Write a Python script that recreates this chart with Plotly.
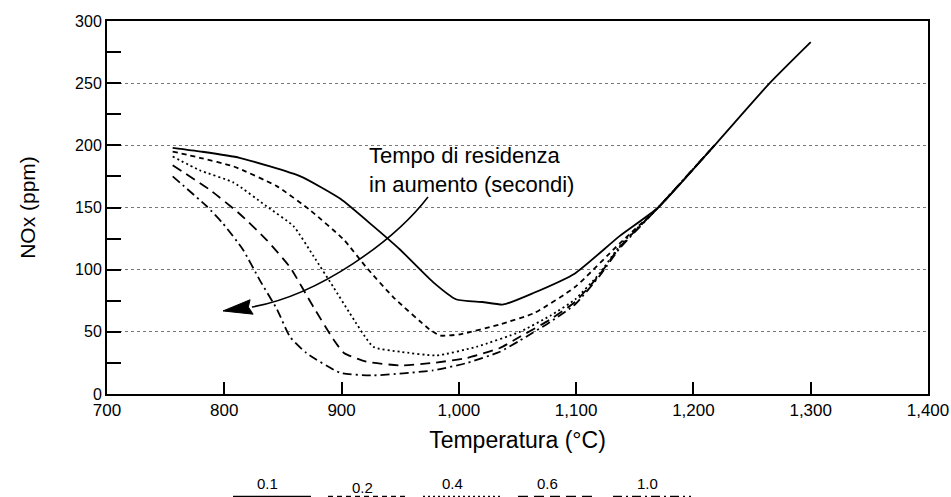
import plotly.graph_objects as go

# ---- data ----
labels = ["0.1", "0.2", "0.4", "0.6", "1.0"]

x_01 = [756, 780, 813, 865, 899, 927, 950, 978, 998, 1020, 1038, 1063, 1099, 1137, 1170, 1218, 1265, 1300]
y_01 = [198, 195, 190, 175, 157, 135, 116, 90, 76, 74, 72, 81, 97, 127, 150, 200, 250, 283]

x_02 = [756, 779, 808, 845, 873, 902, 921, 944, 975, 984, 1001, 1035, 1064, 1099, 1137, 1170, 1218]
y_02 = [195, 190, 183, 167, 148, 124, 102, 78, 52, 47, 48, 56, 65, 86, 121, 150, 200]

x_04 = [756, 779, 808, 836, 859, 876, 893, 907, 927, 950, 981, 1015, 1052, 1078, 1099, 1120, 1137, 1170, 1218]
y_04 = [191, 180, 170, 151, 135, 111, 86, 65, 38, 34, 31, 38, 50, 63, 76, 97, 119, 150, 200]

x_06 = [756, 788, 813, 836, 856, 876, 893, 902, 921, 950, 978, 1007, 1035, 1052, 1078, 1099, 1120, 1137, 1170, 1218]
y_06 = [184, 164, 145, 124, 102, 70, 44, 33, 26, 23, 25, 29, 37, 46, 60, 74, 96, 118, 150, 200]

x_10 = [756, 785, 799, 816, 830, 845, 856, 870, 899, 927, 978, 1007, 1035, 1052, 1078, 1099, 1120, 1137, 1170, 1218]
y_10 = [175, 151, 137, 116, 92, 68, 46, 33, 17, 15, 19, 25, 34, 43, 58, 72, 95, 117, 150, 200]

series_x = [x_01, x_02, x_04, x_06, x_10]
series_y = [y_01, y_02, y_04, y_06, y_10]
dashes = ["solid", "5px,4px", "2px,3px", "10px,6px", "9px,4px,2px,4px"]

x_ticks = [700, 800, 900, 1000, 1100, 1200, 1300, 1400]
x_ticktext = ["700", "800", "900", "1,000", "1,100", "1,200", "1,300", "1,400"]
y_ticks = [0, 50, 100, 150, 200, 250, 300]

note_text = "Tempo di residenza<br>in aumento (secondi)"
# curved arrow (annotation) control points, data coords
arrow_curve = [(973.7, 158.5), (945.5, 123.9), (881.6, 79.7), (823.6, 70.0)]
arrow_head = [(822.0, 75.8), (798.9, 66.8), (824.6, 64.2), (820.5, 70.0)]

FONT = "Liberation Sans, Arial, sans-serif"

fig = go.Figure()
for lab, xs, ys, d in zip(labels, series_x, series_y, dashes):
    fig.add_trace(go.Scatter(
        x=xs, y=ys, mode="lines", name=lab, legendgroup=lab, showlegend=False,
        line=dict(color="black", width=1.8, dash=d, shape="spline", smoothing=0.5),
    ))
# legend samples (no data, only the key line; labels are drawn above them)
for lab, d in zip(labels, dashes):
    fig.add_trace(go.Scatter(
        x=[None], y=[None], mode="lines", name=" ", legendgroup=lab, showlegend=True,
        line=dict(color="black", width=1.8, dash=d), hoverinfo="skip",
    ))

# curved arrow
p = arrow_curve
path = "M {},{} C {},{} {},{} {},{}".format(*p[0], *p[1], *p[2], *p[3])
fig.add_shape(type="path", path=path, xref="x", yref="y",
              line=dict(color="black", width=1.6))
h = arrow_head
hpath = "M {},{} L {},{} L {},{} L {},{} Z".format(*h[0], *h[1], *h[2], *h[3])
fig.add_shape(type="path", path=hpath, xref="x", yref="y",
              line=dict(color="black", width=1), fillcolor="black")

fig.add_annotation(x=922, y=180, xref="x", yref="y", text=note_text,
                   showarrow=False, xanchor="left", yanchor="middle", align="left",
                   font=dict(family=FONT, size=22, color="black"))

# legend labels above the samples
label_px = [267, 362, 452, 547, 647]
label_py = [483, 487, 483, 483, 483]
for lab, px, py in zip(labels, label_px, label_py):
    fig.add_annotation(x=(px - 107) / 821, y=(394 - py) / 373, xref="paper", yref="paper",
                       text=lab, showarrow=False, xanchor="center", yanchor="middle",
                       font=dict(family=FONT, size=15, color="black"))

fig.update_layout(
    width=951, height=497,
    margin=dict(l=107, r=23, t=21, b=103, autoexpand=False),
    paper_bgcolor="white", plot_bgcolor="white",
    font=dict(family=FONT, color="black"),
    showlegend=True,
    legend=dict(orientation="h", x=(228 - 107) / 821, xanchor="left",
                y=(394 - 481) / 373, yanchor="top",
                entrywidth=2, entrywidthmode="pixels", itemwidth=78,
                font=dict(size=14, color="black"),
                bgcolor="rgba(0,0,0,0)", tracegroupgap=0),
    xaxis=dict(range=[700, 1400], tickvals=x_ticks, ticktext=x_ticktext,
               ticks="inside", ticklen=12, tickwidth=2, tickcolor="black",
               showline=True, linewidth=2, linecolor="black", mirror=True,
               showgrid=False, zeroline=False,
               tickfont=dict(family=FONT, size=17, color="black"),
               title=dict(text="Temperatura (°C)", standoff=12,
                          font=dict(family=FONT, size=23, color="black"))),
    yaxis=dict(range=[0, 300], tickvals=y_ticks,
               ticks="inside", ticklen=14, tickwidth=2, tickcolor="black",
               minor=dict(dtick=25, tick0=0, ticks="inside", ticklen=14, tickwidth=2,
                          tickcolor="black", showgrid=False),
               showline=True, linewidth=2, linecolor="black", mirror=True,
               showgrid=True, gridcolor="#777777", griddash="dot", gridwidth=1,
               zeroline=False,
               tickfont=dict(family=FONT, size=16, color="black"),
               title=dict(text="NOx (ppm)", standoff=34,
                          font=dict(family=FONT, size=21, color="black"))),
)

fig.write_html("out.html")
